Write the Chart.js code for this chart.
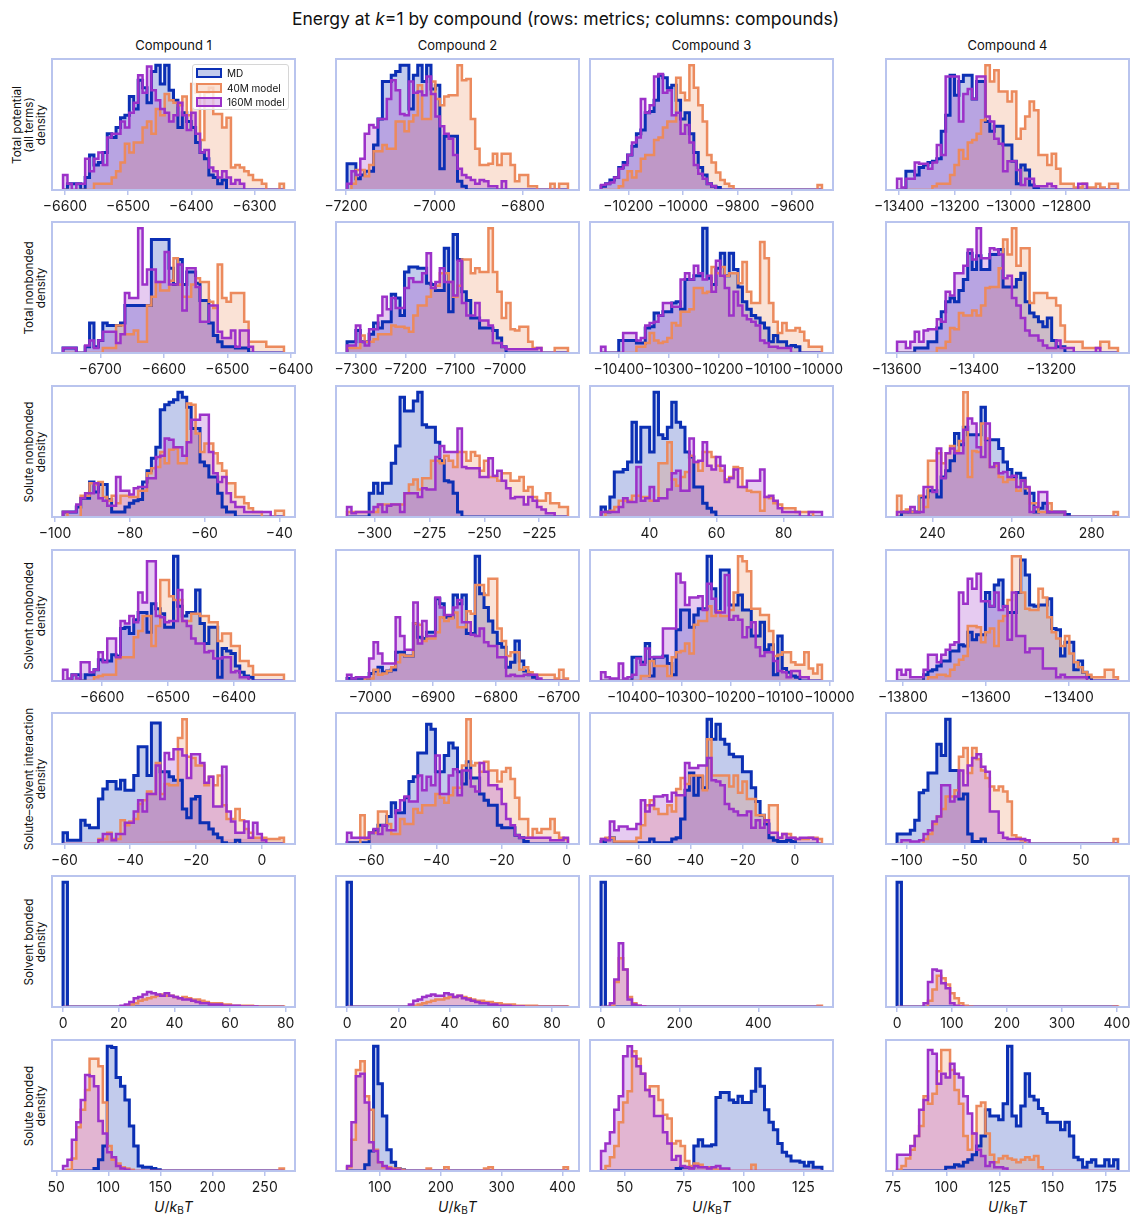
<!DOCTYPE html>
<html>
<head>
<meta charset="utf-8">
<title>Energy at k=1 by compound</title>
<script src="https://cdn.jsdelivr.net/npm/chart.js@4.4.1/dist/chart.umd.min.js"></script>
<style>
  html, body { margin: 0; padding: 0; background: #fff; }
  #page { position: relative; width: 1131px; height: 1214px; overflow: hidden;
          font-family: Inter, "DejaVu Sans", sans-serif; color: #111; }
  .title { position: absolute; left: 0; top: 8px; width: 1131px; text-align: center; font-size: 17.5px; }
  .coltitle { position: absolute; top: 37px; width: 243px; text-align: center; font-size: 13px; }
  .ylab { position: absolute; width: 200px; text-align: center; font-size: 11.7px; line-height: 12px;
          transform: rotate(-90deg); white-space: nowrap; }
  .xlab { position: absolute; top: 1198px; width: 243px; text-align: center; font-size: 14px; }
  .xlab sub { font-size: 10px; font-style: normal; vertical-align: -2px; }
  canvas.panel { position: absolute; }
  .legend { position: absolute; left: 192px; top: 64px; width: 97px; height: 46px; z-index: 3;
            background: rgba(255,255,255,0.8); border: 1px solid #d6d6d6; border-radius: 3px; box-sizing: border-box; }
  .legend .item { position: absolute; left: 3px; height: 12px; font-size: 10px; line-height: 12px; white-space: nowrap; }
  .legend .patch { position: absolute; left: 0; top: 1px; width: 26px; height: 10px; box-sizing: border-box; border-width: 2px; border-style: solid; }
  .legend .txt { position: absolute; left: 31px; top: 0; }
</style>
</head>
<body>
<div id="page"></div>
<script>
// ---- panel grid ----
const compounds = ['Compound 1', 'Compound 2', 'Compound 3', 'Compound 4'];
const seriesNames = ['MD', '40M model', '160M model'];
const rowLabels = [
  ['Total potential', '(all terms)', 'density'],
  ['Total nonbonded', 'density'],
  ['Solute nonbonded', 'density'],
  ['Solvent nonbonded', 'density'],
  ['Solute\u2013solvent interaction', 'density'],
  ['Solvent bonded', 'density'],
  ['Solute bonded', 'density']
];

// ---- Total potential (all terms) ----
const totPot_range = [[-6603, -6253.4], [-7197.7, -6697.3], [-10300, -9490.8], [-13407.2, -12614]];
const totPot_ticks = [[-6600, -6500, -6400, -6300], [-7200, -7000, -6800], [-10200, -10000, -9800, -9600], [-13400, -13200, -13000, -12800]];
const totPot_md = [
  [0,5,5,5,0,10,28,20,22,30, 45,42,50,58,60,75,65,88,82,70, 95,100,85,100,80,72,50,62,55,50, 38,30,25,12,10,5,8,0,0,0, 0,0,0,0,0,0,0,0,0,0],
  [21,21,9,12,15,15,36,57,87,87, 92,95,100,100,65,92,100,87,100,81, 84,17,43,43,43,7,3,0,0,0, 0,0,0,0,0,0,0,0,0,0, 0,0,0,0,0,0,0,0,0,0],
  [3,5,8,10,18,22,28,35,45,48, 62,63,72,92,90,82,84,72,57,62, 45,30,18,12,5,3,2,0,0,0, 0,0,0,0,0,0,0,0,0,0, 0,0,0,0,0,0,0,0,0,0],
  [0,0,15,15,12,18,20,22,23,25, 47,60,92,76,87,92,92,73,87,87, 55,47,51,51,36,36,23,5,20,16, 4,2,0,0,0,0,0,0,0,0, 0,0,0,0,0,0,0,0,0,0]
];
const totPot_40m = [
  [0,0,0,0,0,0,0,5,5,5, 5,10,15,22,37,30,38,38,50,55, 45,65,60,77,72,70,68,75,60,85, 78,40,78,82,61,61,50,58,18,20, 18,15,12,8,8,5,0,0,0,5],
  [0,5,16,16,11,20,31,31,36,33, 33,55,55,47,55,60,84,57,57,87, 73,68,75,76,76,100,88,89,57,33, 20,20,21,29,20,29,29,20,7,12, 12,3,3,0,0,0,5,0,5,5],
  [0,0,0,0,3,8,15,10,15,25, 28,28,40,42,50,55,55,90,78,72, 100,82,68,55,28,22,14,8,5,3, 0,0,0,0,0,0,0,0,0,0, 0,0,0,0,0,0,0,0,0,4],
  [0,0,0,0,0,0,0,0,3,5, 5,5,12,20,32,25,38,40,45,56, 100,87,96,79,79,71,79,41,49,59, 71,64,28,28,20,29,17,5,5,5, 2,2,5,2,2,5,2,0,5,5]
];
const totPot_160m = [
  [12,5,0,5,5,25,15,25,30,20, 42,45,45,55,50,62,70,92,78,99, 80,72,65,62,55,60,70,60,48,62, 45,30,32,18,15,10,15,10,5,8, 5,0,0,0,0,0,0,0,0,0],
  [5,15,12,25,45,52,50,57,57,73, 88,80,61,60,87,78,79,76,91,77, 59,51,45,41,28,17,12,10,8,5, 8,7,3,3,0,7,0,0,0,0, 0,0,0,0,0,0,0,0,0,0],
  [4,5,6,10,17,20,28,38,42,73, 62,68,91,93,78,80,60,62,45,52, 38,20,13,9,5,3,0,0,0,0, 0,0,0,0,0,0,0,0,0,0, 0,0,0,0,0,0,0,0,0,0],
  [9,2,9,9,22,21,21,17,22,36, 28,91,91,91,55,77,81,73,91,91, 59,55,41,37,15,23,23,16,4,9, 9,3,3,3,5,3,0,0,0,0, 0,5,5,0,0,0,0,0,0,0]
];

// ---- Total nonbonded ----
const totNb_range = [[-6758.6, -6411], [-7318.1, -6872.7], [-10435.8, -9991.7], [-13598.9, -13027.5]];
const totNb_ticks = [[-6700, -6600, -6500, -6400], [-7300, -7200, -7100, -7000], [-10400, -10300, -10200, -10100, -10000], [-13600, -13400, -13200]];
const totNb_md = [
  [4,4,4,0,0,5,24,5,10,24, 22,22,22,24,38,38,38,38,38,38, 91,91,91,91,68,55,75,55,65,65, 56,42,42,24,14,9,5,5,5,4, 4,4,0,0,0,0,0,0,0,0],
  [9,9,18,9,9,15,24,20,25,25, 47,44,30,65,69,69,68,68,56,55, 50,50,84,33,95,75,49,42,28,28, 20,20,20,18,12,5,0,0,0,0, 0,0,0,0,0,0,0,0,0,0],
  [0,0,0,0,10,10,10,10,8,8, 20,21,32,30,33,33,40,41,35,59, 59,62,62,100,60,55,68,80,62,80, 67,53,41,35,30,28,24,20,9,14, 9,9,5,6,5,0,0,0,0,0],
  [0,0,0,0,4,4,4,9,9,20, 33,41,44,41,50,59,80,67,78,67, 67,79,79,83,53,53,53,59,64,41, 32,29,25,21,28,10,5,5,0,0, 0,0,0,0,0,0,0,0,0,0]
];
const totNb_40m = [
  [0,0,0,0,0,0,0,0,0,4, 4,4,22,22,15,15,18,9,9,38, 45,57,50,50,58,76,55,45,45,55, 60,57,57,41,36,71,44,41,48,48, 48,25,9,9,9,9,5,5,5,5],
  [4,4,4,14,9,9,11,15,15,15, 22,21,21,20,17,30,38,38,45,52, 54,64,64,57,45,54,75,75,64,68, 65,65,100,65,49,28,40,19,18,21, 21,9,4,4,0,0,0,4,4,4],
  [0,0,0,0,0,0,0,0,5,5, 8,16,10,8,9,12,24,22,33,33, 35,52,52,48,49,69,64,69,62,64, 64,56,73,49,40,40,89,76,40,25, 16,24,18,18,20,17,10,5,5,5],
  [0,0,0,0,0,0,0,0,0,4, 4,9,20,19,32,30,30,34,30,38, 52,53,53,68,91,79,100,70,84,84, 40,48,48,48,44,44,38,22,9,9, 9,9,4,4,4,4,9,9,4,4]
];
const totNb_160m = [
  [4,4,4,0,0,6,10,4,10,17, 17,17,8,15,48,44,44,100,55,67, 67,57,57,81,55,55,71,34,68,68, 53,25,25,38,38,17,12,12,18,5, 18,18,5,0,0,0,0,0,0,0],
  [6,6,22,9,6,19,19,30,45,35, 44,36,36,52,60,57,57,64,80,52, 57,68,57,57,46,74,40,30,30,40, 26,26,22,8,8,5,3,3,3,3, 3,3,3,4,0,0,0,0,0,0],
  [5,0,0,0,0,16,16,16,10,12, 22,24,25,30,40,40,37,37,59,64, 59,70,64,59,62,49,74,62,52,30, 49,38,30,27,25,22,10,8,5,5, 4,4,4,0,0,0,0,0,0,0],
  [9,9,4,9,17,9,18,19,19,27, 25,49,46,64,64,70,83,75,100,76, 76,84,83,79,60,62,44,38,28,18, 14,14,10,6,4,4,10,4,4,4, 0,0,0,0,0,4,0,0,0,0]
];

// ---- Solute nonbonded ----
const soluteNb_range = [[-97.85, -38.75], [-312.5, -211.9], [25.6, 91.4], [231.1, 286.6]];
const soluteNb_ticks = [[-100, -80, -60, -40], [-300, -275, -250, -225], [40, 60, 80], [240, 260, 280]];
const soluteNb_md = [
  [4,4,4,8,15,15,28,20,26,26, 14,4,4,4,8,11,13,14,28,37, 47,56,86,90,92,94,100,96,88,71, 71,44,41,32,32,19,8,4,4,0, 0,0,0,0,0,0,0,0,0,0],
  [0,0,0,0,0,19,27,19,27,27, 43,57,96,85,85,93,100,74,72,72, 60,45,29,28,19,4,0,0,0,0, 0,0,0,0,0,0,0,0,0,0, 0,0,0,0,0,0,0,0,0,0],
  [8,4,16,36,36,38,44,76,44,72, 72,52,100,66,63,72,92,76,72,52, 48,24,24,11,7,4,0,0,0,0, 0,0,0,0,0,0,0,0,0,0, 0,0,0,0,0,0,0,0,0,0],
  [0,4,4,4,4,16,16,21,21,16, 32,37,45,67,58,72,66,66,66,88, 62,62,62,55,44,38,32,35,31,19, 19,4,7,11,4,4,4,4,2,0, 0,0,0,0,0,0,0,0,0,0]
];
const soluteNb_40m = [
  [4,0,0,0,17,17,27,26,28,16, 13,17,11,17,17,16,16,21,21,35, 39,40,52,43,54,55,43,43,91,90, 67,52,59,59,51,43,37,27,27,16, 16,11,7,4,4,0,0,0,5,5],
  [4,4,4,4,4,4,4,10,10,10, 10,10,10,19,26,30,22,31,31,45, 45,43,49,45,40,52,52,45,52,49, 37,45,32,32,29,35,35,29,29,32, 21,24,16,13,13,19,11,11,8,8],
  [0,4,5,8,13,13,13,17,17,16, 16,13,13,43,43,60,30,25,32,36, 49,44,37,52,52,48,41,37,30,32, 40,39,24,21,20,20,5,16,15,11, 10,7,7,7,4,4,4,4,0,0],
  [17,4,6,4,4,17,8,45,45,51, 43,51,57,53,61,100,32,53,52,75, 63,40,41,32,28,30,30,21,29,23, 11,11,4,4,11,4,4,4,0,0, 0,0,0,0,0,0,0,0,0,4]
];
const soluteNb_160m = [
  [4,4,4,10,15,19,19,27,15,13, 9,9,32,21,21,18,23,24,24,31, 31,48,49,63,62,56,56,49,60,78, 78,82,82,52,35,28,32,19,12,8, 8,4,4,4,4,4,4,0,0,0],
  [8,3,4,4,4,4,8,10,4,9, 10,10,4,19,19,19,16,23,22,22, 48,57,52,52,52,71,40,39,39,39, 32,32,47,33,37,29,23,15,16,16, 10,16,13,8,6,3,3,0,0,0],
  [4,4,4,4,8,15,12,12,40,13, 15,24,13,15,15,22,35,37,21,21, 63,44,45,60,41,38,48,41,28,31, 38,24,24,29,29,29,38,16,17,13, 7,4,4,4,4,0,0,4,4,4],
  [4,4,4,8,4,4,24,24,20,55, 31,51,55,51,51,70,79,75,56,48, 75,40,43,35,36,32,33,24,29,24, 4,8,20,20,4,4,4,4,0,0, 0,0,0,0,0,0,0,0,0,0]
];

// ---- Solvent nonbonded ----
const solventNb_range = [[-6659.5, -6323.6], [-7037, -6685.2], [-10463.3, -10015.3], [-13814.3, -13280.9]];
const solventNb_ticks = [[-6600, -6500, -6400], [-7000, -6900, -6800, -6700], [-10400, -10300, -10200, -10100, -10000], [-13800, -13600, -13400]];
const solventNb_md = [
  [0,0,5,5,0,5,5,9,17,16, 16,21,20,42,43,38,49,55,55,39, 62,58,54,43,43,100,60,52,55,55, 73,46,30,43,43,3,26,24,22,12, 7,4,3,0,0,0,0,0,0,0],
  [2,2,2,2,2,6,8,11,7,8, 9,23,23,20,20,46,35,34,39,39, 66,62,51,51,69,62,69,38,38,100, 70,59,48,39,30,27,11,15,32,16, 8,5,3,0,0,0,0,0,0,0],
  [0,0,0,0,0,0,0,19,19,15, 30,4,19,19,20,14,5,41,57,57, 43,53,58,58,100,74,56,89,89,61, 61,69,57,57,36,36,47,25,29,5, 36,10,7,4,3,0,0,0,0,0],
  [0,0,0,0,0,0,5,8,9,12, 16,16,24,24,29,28,39,33,37,37, 71,60,77,81,60,55,55,71,97,85, 61,60,61,61,66,42,41,20,31,31, 9,16,7,3,0,0,0,0,0,0]
];
const solventNb_40m = [
  [0,0,0,0,0,0,0,3,4,5, 5,5,18,19,19,19,35,40,52,52, 28,44,81,81,68,65,65,48,48,54, 54,52,52,47,47,32,38,38,28,28, 16,16,12,5,5,5,5,5,5,5],
  [0,0,0,0,2,2,9,5,6,8, 11,15,21,20,20,46,45,32,34,34, 39,51,48,50,55,43,43,56,54,77, 77,69,82,82,42,32,20,23,23,9, 11,7,5,5,5,5,5,2,9,2],
  [0,0,0,0,0,0,0,0,0,4, 4,16,12,12,12,4,19,23,24,30, 22,45,48,48,60,52,56,52,52,57, 71,100,96,88,58,58,53,53,40,20, 21,23,23,15,13,13,23,10,6,13],
  [0,0,0,0,0,0,0,3,3,5, 5,4,9,13,17,20,44,44,43,31, 39,42,28,48,52,65,100,100,71,58, 57,57,74,67,51,39,34,28,36,22, 15,11,7,5,3,3,3,9,9,3]
];
const solventNb_160m = [
  [9,2,5,2,15,15,7,9,23,15, 34,34,19,48,46,52,47,71,63,96, 96,52,51,47,48,48,73,48,44,34, 30,30,23,24,18,18,19,19,7,8, 3,3,0,0,0,0,0,0,0,0],
  [5,2,3,3,3,18,31,22,14,14, 14,51,36,25,25,63,30,48,36,36, 67,59,53,53,59,65,47,47,37,36, 42,31,28,28,19,19,4,5,4,4, 5,5,5,2,0,0,0,0,0,0],
  [7,3,2,2,14,2,3,5,18,13, 26,19,19,19,42,42,42,86,79,61, 67,67,68,57,78,66,55,55,85,49, 52,49,35,43,47,27,20,23,23,16, 8,7,3,8,8,3,3,0,0,0],
  [9,5,9,3,3,3,9,21,21,15, 21,25,29,31,71,62,82,74,86,64, 64,60,71,57,60,33,71,36,36,23, 26,26,26,10,10,10,3,5,3,3, 3,3,3,0,0,0,0,0,0,0]
];

// ---- Solute-solvent interaction ----
const interact_range = [[-60.4, 6.7], [-67.4, 0.37], [-74.3, 10.4], [-108.1, 81.8]];
const interact_ticks = [[-60, -40, -20, 0], [-60, -40, -20, 0], [-60, -40, -20, 0], [-100, -50, 0, 50]];
const interact_md = [
  [9,3,3,3,19,15,13,13,36,44, 50,50,44,51,43,43,55,78,78,55, 97,97,58,58,54,51,51,28,21,36, 38,17,17,12,8,5,1,0,0,3, 0,0,0,0,0,0,0,0,0,0],
  [1,1,1,1,1,9,11,15,15,22, 33,25,25,37,50,54,73,73,96,92, 58,58,71,81,77,58,48,66,53,53, 40,35,31,31,15,13,13,13,7,5, 2,0,0,0,0,0,0,0,0,0],
  [2,4,5,1,1,1,1,1,1,1, 1,4,1,1,1,1,4,5,20,43, 57,39,54,45,100,84,96,84,80,72, 70,70,58,58,45,34,23,16,5,3, 2,2,3,2,0,0,0,0,0,0],
  [8,8,8,11,19,41,43,57,57,80, 71,100,59,59,36,40,8,2,2,4, 0,0,0,0,0,0,0,0,0,0, 0,0,0,0,0,0,0,0,0,0, 0,0,0,0,0,0,0,0,0,0]
];
const interact_40m = [
  [0,0,0,0,0,0,0,0,4,4, 9,4,4,19,15,18,20,32,35,42, 40,65,40,48,47,47,85,100,70,69, 63,63,47,54,47,55,31,20,20,28, 19,12,9,5,5,5,4,4,4,5],
  [0,0,0,23,4,9,9,26,26,16, 8,8,20,16,16,28,25,31,31,31, 40,37,33,39,45,45,63,100,63,65, 58,66,59,59,50,58,61,52,37,20, 20,5,12,9,12,12,20,9,5,4],
  [4,5,5,2,2,2,2,2,5,15, 31,35,28,24,24,31,26,44,53,48, 55,55,55,43,84,55,55,55,55,46, 55,41,50,36,36,23,23,18,31,31, 5,8,8,5,4,4,4,5,5,4],
  [0,0,0,0,0,0,4,8,16,22, 28,38,38,43,70,77,57,77,68,59, 53,46,43,46,42,34,7,5,3,0, 0,0,0,0,0,0,0,0,0,0, 0,0,0,0,0,0,0,0,0,4]
];
const interact_160m = [
  [0,0,0,0,0,0,0,0,3,8, 8,3,8,8,17,17,26,35,26,40, 40,63,36,73,68,76,76,71,53,72, 72,65,49,54,30,30,62,26,18,9, 9,18,5,17,8,3,0,0,0,0],
  [9,5,5,5,5,9,12,8,15,11, 11,27,35,38,34,34,55,43,54,47, 71,40,40,55,60,39,59,59,46,42, 65,58,47,47,44,32,20,15,7,5, 5,5,5,5,5,5,3,3,3,5],
  [4,3,18,11,14,14,12,12,16,35, 26,31,38,38,39,34,41,39,39,65, 61,61,63,63,69,51,50,47,32,28, 26,23,23,26,13,19,13,19,9,9, 5,8,5,5,4,5,5,5,4,0],
  [0,3,3,2,2,3,8,11,18,22, 47,47,34,38,59,47,63,69,72,62, 58,26,26,9,5,4,4,4,4,3, 0,0,0,0,0,0,0,0,0,0, 0,0,0,0,0,0,0,0,0,0]
];

// ---- Solvent bonded ----
const solventBd_range = [[0, 79.4], [0, 86.2], [0, 562], [0, 402]];
const solventBd_ticks = [[0, 20, 40, 60, 80], [0, 20, 40, 60, 80], [0, 200, 400], [0, 100, 200, 300, 400]];
const solventBd_md = [
  [100,0,0,0,0,0,0,0,0,0, 0,0,0,0,0,0,0,0,0,0, 0,0,0,0,0,0,0,0,0,0, 0,0,0,0,0,0,0,0,0,0, 0,0,0,0,0,0,0,0,0,0],
  [100,0,0,0,0,0,0,0,0,0, 0,0,0,0,0,0,0,0,0,0, 0,0,0,0,0,0,0,0,0,0, 0,0,0,0,0,0,0,0,0,0, 0,0,0,0,0,0,0,0,0,0],
  [100,0,0,0,0,0,0,0,0,0, 0,0,0,0,0,0,0,0,0,0, 0,0,0,0,0,0,0,0,0,0, 0,0,0,0,0,0,0,0,0,0, 0,0,0,0,0,0,0,0,0,0],
  [100,0,0,0,0,0,0,0,0,0, 0,0,0,0,0,0,0,0,0,0, 0,0,0,0,0,0,0,0,0,0, 0,0,0,0,0,0,0,0,0,0, 0,0,0,0,0,0,0,0,0,0]
];
const solventBd_40m = [
  [0,0,0,0,0,0,0,0,0,0, 0,0,0,0,1,2,3,5,6,7, 8,9,10,9,9,8,7,8,7,6, 6,5,4,3,3,3,2,2,1,1, 1,1,1,0.5,0.5,0.5,0.5,0.5,0.5,0.5],
  [0,0,0,0,0,0,0,0,0,0, 0,0,0,0,0,1,2,3,4,5, 6,6,7,8,8,9,8,7,6,5, 5,4,4,3,3,2,2,2,1,1, 1,1,1,0.5,0.5,0.5,0.5,0.5,0.5,0.5],
  [0,0,1,20,39,30,8,3,1,0.5, 0,0,0,0,0,0,0,0,0,0, 0,0,0,0,0,0,0,0,0,0, 0,0,0,0,0,0,0,0,0,0, 0,0,0,0,0,0,0,0,0,1],
  [0,0,0,0,0,0,0,5,14,25, 23,18,11,7,3,1,0.5,0,0,0, 0,0,0,0,0,0,0,0,0,0, 0,0,0,0,0,0,0,0,0,0, 0,0,0,0,0,0,0,0,0,0.5]
];
const solventBd_160m = [
  [0,0,0,0,0,0,0,0,0,0, 0,0,0,1,2,4,7,8,10,12, 11,10,9,11,9,8,7,6,6,5, 4,3,3,2,2,2,1,1,1,1, 0.5,0.5,0.5,0.5,0,0,0,0,0,0],
  [0,0,0,0,0,0,0,0,0,0, 0,0,0,0,2,5,6,8,9,10, 9,9,11,10,8,9,7,6,5,4, 3,3,2,2,1,1,1,0.5,0.5,0.5, 0,0,0,0,0,0,0,0,0,0],
  [0,0,3,22,51,30,6,2,1,0.5, 0,0,0,0,0,0,0,0,0,0, 0,0,0,0,0,0,0,0,0,0, 0,0,0,0,0,0,0,0,0,0, 0,0,0,0,0,0,0,0,0,0],
  [0,0,0,0,0,0,3,20,30,29, 19,15,3,1,0.5,0,0,0,0,0, 0,0,0,0,0,0,0,0,0,0, 0,0,0,0,0,0,0,0,0,0, 0,0,0,0,0,0,0,0,0,0]
];

// ---- Solute bonded ----
const soluteBd_range = [[56.5, 268.4], [45.8, 409.1], [40.1, 132.8], [76.8, 180.6]];
const soluteBd_ticks = [[50, 100, 150, 200, 250], [100, 200, 300, 400], [50, 75, 100, 125], [75, 100, 125, 150, 175]];
const soluteBd_md = [
  [0,0,0,0,0,0,0,2,9,20, 100,99,75,68,57,36,20,4,3,3, 2,1,0,0,0,0,0,0,0,0, 0,0,0,0,0,0,0,0,0,0, 0,0,0,0,0,0,0,0,0,0],
  [0,0,0,0,5,16,100,70,44,17, 7,2,1,0,0,0,0,0,0,0, 0,0,0,0,0,0,0,0,0,0, 0,0,0,0,0,0,0,0,0,0, 0,0,0,0,0,0,0,0,0,0],
  [0,0,0,0,0,0,0,0,0,0, 0,0,0,0,0,0,0,2,3,3, 3,20,25,20,20,21,59,63,63,57, 55,60,55,55,64,82,68,49,39,33, 22,15,12,8,8,7,4,7,3,3],
  [0,0,0,0,0,0,0,0,0,0, 0,3,3,5,4,7,9,13,20,28, 49,44,44,41,54,100,44,36,52,78, 60,57,50,46,39,39,39,33,39,28, 11,9,3,7,9,4,4,9,4,9]
];
const soluteBd_40m = [
  [0,1,10,35,49,65,90,90,84,55, 20,9,6,3,2,1,0,0,0,0, 0,0,0,0,0,0,0,0,0,0, 0,0,0,0,0,0,0,0,0,0, 0,0,0,0,0,0,0,0,0,2],
  [3,25,81,88,60,49,17,7,3,3, 2,2,1,0,0,0,0,0,2,0, 0,0,3,0,0,0,0,0,0,0, 0,2,3,0,0,0,0,0,0,0, 0,0,0,0,0,0,0,0,0,3],
  [0,4,11,20,39,55,64,96,90,78, 65,68,68,57,45,42,22,24,20,8, 4,6,5,3,3,2,1,1,1,0, 0,0,0,0,5,0,0,0,0,0, 0,0,0,0,0,0,0,0,0,0],
  [1,4,10,17,28,36,60,54,62,80, 97,97,81,65,54,28,17,30,52,55, 30,13,7,10,12,10,9,7,9,11, 9,12,3,0,0,0,0,0,0,0, 0,0,0,0,0,0,0,0,0,0]
];
const soluteBd_160m = [
  [4,9,25,39,57,77,76,68,40,30, 15,11,4,2,1,0,0,0,0,0, 0,0,0,0,0,0,0,0,0,0, 0,0,0,0,0,0,0,0,0,0, 0,0,0,0,0,0,0,0,0,0],
  [4,39,76,78,55,23,16,7,4,2, 1,1,0,0,0,0,0,0,0,0, 0,0,0,0,0,0,0,0,0,0, 0,0,0,0,0,0,0,0,0,0, 0,0,0,0,0,0,0,0,0,0],
  [16,22,31,49,60,92,100,92,84,78, 65,60,44,44,31,22,9,12,4,3, 2,4,3,3,2,3,4,2,2,0, 0,0,0,0,0,0,0,0,0,0, 0,0,0,0,0,0,0,0,0,0],
  [13,13,13,20,28,49,57,97,94,70, 78,75,86,78,75,60,46,30,17,12, 4,7,3,3,2,0,0,0,0,0, 0,0,0,0,0,0,0,0,0,0, 0,0,0,0,0,0,0,0,0,0]
];

// ---- styling ----
const FONT = 'Inter, "DejaVu Sans", sans-serif';
const FRAME = '#b9c4ee';
const lineColors = ['#0b2fb4', '#ec8a5d', '#9c31c9'];
const fillColors = ['rgba(11,47,180,0.25)', 'rgba(236,138,93,0.25)', 'rgba(156,49,201,0.25)'];
const lineWidths = [3, 2.5, 2.5];

const colX = [52, 336, 590, 886];
const rowY = [59, 222, 386, 550, 713, 876, 1040];
const BOX_W = 243, BOX_H = 131;
const PAD_L = 44, PAD_R = 44, PAD_T = 6, AXIS_H = 30;

const rows = [
  [totPot_range, totPot_ticks, totPot_md, totPot_40m, totPot_160m],
  [totNb_range, totNb_ticks, totNb_md, totNb_40m, totNb_160m],
  [soluteNb_range, soluteNb_ticks, soluteNb_md, soluteNb_40m, soluteNb_160m],
  [solventNb_range, solventNb_ticks, solventNb_md, solventNb_40m, solventNb_160m],
  [interact_range, interact_ticks, interact_md, interact_40m, interact_160m],
  [solventBd_range, solventBd_ticks, solventBd_md, solventBd_40m, solventBd_160m],
  [soluteBd_range, soluteBd_ticks, soluteBd_md, soluteBd_40m, soluteBd_160m]
];

// Step outline of a histogram with equal-width bins on [lo, hi].
function stepOutline(lo, hi, counts) {
  const n = counts.length, w = (hi - lo) / n;
  const pts = [{ x: lo, y: 0 }];
  for (let i = 0; i < n; i++) {
    pts.push({ x: lo + i * w, y: counts[i] });
    pts.push({ x: lo + (i + 1) * w, y: counts[i] });
  }
  pts.push({ x: hi, y: 0 });
  return pts;
}

function fmtTick(v) {
  return v < 0 ? '\u2212' + Math.abs(v) : String(v);
}

const framePlugin = {
  id: 'frame',
  afterDatasetsDraw(chart) {
    const { ctx, chartArea: a } = chart;
    ctx.save();
    ctx.strokeStyle = FRAME;
    ctx.lineWidth = 2;
    ctx.strokeRect(a.left, a.top, a.right - a.left, a.bottom - a.top);
    ctx.restore();
  }
};

const page = document.getElementById('page');

function addDiv(cls, html, style) {
  const d = document.createElement('div');
  d.className = cls;
  d.innerHTML = html;
  Object.assign(d.style, style || {});
  page.appendChild(d);
  return d;
}

addDiv('title', 'Energy at <i>k</i>=1 by compound (rows: metrics; columns: compounds)');
compounds.forEach((c, j) => addDiv('coltitle', c, { left: colX[j] + 'px' }));

rowLabels.forEach((lines, r) => {
  const h = lines.length * 12;
  const cx = 46.5 - h / 2;
  const cy = rowY[r] + BOX_H / 2;
  addDiv('ylab', lines.join('<br>'), {
    left: (cx - 100) + 'px', top: (cy - h / 2) + 'px', height: h + 'px'
  });
});

compounds.forEach((c, j) => addDiv('xlab', '<i>U</i>/<i>k</i><sub>B</sub><i>T</i>', { left: colX[j] + 'px' }));

function makePanel(r, j) {
  const [ranges, ticksAll, md, m40, m160] = rows[r];
  const [lo, hi] = ranges[j];
  const tickVals = ticksAll[j];
  const series = [md[j], m40[j], m160[j]];
  const span = hi - lo;
  const ymax = Math.max(...series.flat()) * 1.05;

  const cv = document.createElement('canvas');
  cv.className = 'panel';
  cv.width = BOX_W + PAD_L + PAD_R;
  cv.height = BOX_H + PAD_T + AXIS_H;
  cv.style.left = (colX[j] - PAD_L) + 'px';
  cv.style.top = (rowY[r] - PAD_T) + 'px';
  cv.style.width = cv.width + 'px';
  cv.style.height = cv.height + 'px';
  page.appendChild(cv);

  new Chart(cv, {
    type: 'line',
    data: {
      datasets: series.map((counts, k) => ({
        label: seriesNames[k],
        data: stepOutline(lo, hi, counts),
        borderColor: lineColors[k],
        backgroundColor: fillColors[k],
        borderWidth: lineWidths[k],
        borderJoinStyle: 'miter',
        fill: 'origin',
        pointRadius: 0,
        pointHoverRadius: 0,
        tension: 0,
        order: 3 - k
      }))
    },
    options: {
      responsive: false,
      animation: false,
      events: [],
      devicePixelRatio: 1,
      layout: { padding: { left: PAD_L, right: PAD_R, top: PAD_T, bottom: 0 } },
      plugins: {
        legend: { display: false },
        tooltip: { enabled: false },
        filler: { drawTime: 'beforeDatasetsDraw' }
      },
      scales: {
        x: {
          type: 'linear',
          min: lo - 0.05 * span,
          max: hi + 0.05 * span,
          afterBuildTicks: s => { s.ticks = tickVals.map(v => ({ value: v })); },
          afterFit: s => { s.height = AXIS_H; },
          ticks: {
            autoSkip: false, maxRotation: 0, minRotation: 0, padding: 3,
            color: '#1b1b1b', font: { family: FONT, size: 14 },
            callback: v => fmtTick(v)
          },
          grid: { drawOnChartArea: false, drawTicks: true, tickLength: 5, color: FRAME, lineWidth: 1.5 },
          border: { display: false }
        },
        y: { display: false, min: 0, max: ymax }
      }
    },
    plugins: [framePlugin]
  });
}

for (let r = 0; r < rows.length; r++) {
  for (let j = 0; j < compounds.length; j++) makePanel(r, j);
}

// legend inside the first panel
const lg = addDiv('legend', '');
seriesNames.forEach((name, k) => {
  const it = document.createElement('div');
  it.className = 'item';
  it.style.top = (2 + k * 14.5) + 'px';
  it.innerHTML = '<span class="patch" style="border-color:' + lineColors[k] + ';background:' + fillColors[k] + '"></span><span class="txt">' + name + '</span>';
  lg.appendChild(it);
});
</script>
</body>
</html>
